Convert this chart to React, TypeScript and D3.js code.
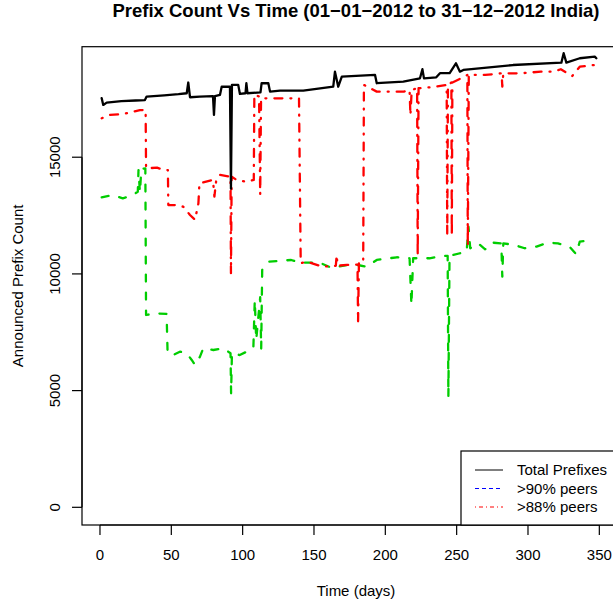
import * as d3 from 'd3';

// [day, announced prefix count]
const totalPrefixes: [number, number][] = [
  [1.2, 17530], [2.3, 17240], [4.7, 17340], [15, 17400], [25, 17430], [31.5, 17450],
  [32.7, 17600], [45, 17650], [55, 17700], [60.8, 17740], [61.9, 18200], [63.1, 17570],
  [70, 17600], [79.2, 17620], [79.9, 16810], [80.6, 17620], [84.1, 17670], [85.3, 18020],
  [91.1, 18020], [91.8, 13650], [92.5, 18100], [96.9, 18100], [98.1, 17710], [102, 17740],
  [102.6, 18170], [103.4, 17740], [112.5, 17780], [113.3, 18170], [118, 18170], [119.2, 17810],
  [126.2, 17850], [142.5, 17850], [163.5, 18020], [164.7, 18665], [167, 18020], [169.5, 18450],
  [192.8, 18525], [194, 18170], [212.6, 18240], [224.3, 18380], [226, 18770], [227.1, 18380],
  [235.7, 18425], [238.3, 18600], [245.1, 18600], [249.5, 19025], [252.3, 18665], [254.7, 18740],
  [260.3, 18770], [289.5, 18950], [323.4, 19050], [325, 19455], [326.9, 19050], [336.3, 19240],
  [346.8, 19310], [347.9, 19240],
];

const peers90: [number, number][] = [
  [1.2, 13283], [9, 13380], [16, 13240], [22, 13340], [26.5, 13520], [27, 14450], [28, 13500],
  [29, 14500], [31.8, 14525], [32.3, 8240], [38.5, 8313], [46.7, 8283], [47.4, 6600], [51.4, 6525],
  [56, 6668], [60.8, 6600], [64.3, 6312], [66.6, 6100], [70.1, 6453], [72.4, 6813], [79.5, 6740],
  [86.6, 6813], [91.5, 6600], [91.9, 4885], [92.5, 6600], [98, 6525], [107.5, 6813], [108.5, 8870],
  [109.5, 7170], [112.3, 9000], [113, 6800], [113.7, 10170], [118.3, 10525], [127, 10567],
  [134, 10597], [140, 10483], [154, 10483], [162, 10267], [174, 10383], [180.5, 10383],
  [187, 10310], [194, 10597], [208, 10713], [217, 10670], [218.3, 8670], [219.5, 10670],
  [224.3, 10670], [231, 10670], [240.5, 10770], [243.7, 10770], [244.2, 4740], [245, 10770],
  [252.3, 10885], [257, 10950], [258.3, 12020], [259.5, 11100], [265, 11310], [270, 11055],
  [274.7, 11340], [281.3, 11310], [282, 9880], [282.7, 11310], [290.5, 11240], [297.7, 11100],
  [306, 11170], [314, 11340], [321, 11310], [329, 11170], [333.7, 10850], [336.3, 11380],
  [345.5, 11455],
];

const peers88: [number, number][] = [
  [1.2, 16670], [7, 16810], [16, 16850], [28, 17020], [32, 17020], [32.3, 14525], [40, 14550],
  [45, 14450], [47.6, 14450], [47.9, 12950], [53.7, 12950], [58.4, 12880], [63.1, 12525],
  [66.6, 12320], [69, 13025], [69.7, 13880], [79.2, 14025], [80.2, 13310], [81.5, 14025],
  [84.1, 14240], [91.5, 14165], [91.8, 10030], [92.3, 14165], [95.8, 14025], [102.8, 13950],
  [107.8, 14025], [108.2, 17680], [111.5, 17600], [112.3, 13400], [112.9, 17525], [126, 17525],
  [139.5, 17525], [140.7, 10455], [145, 10525], [156, 10310], [165.3, 10350], [165.9, 10810],
  [166.5, 10350], [173, 10383], [180.5, 10400], [180.9, 7950], [181.5, 10455], [184.5, 10455],
  [185, 18096], [194, 17810], [213, 17810], [217, 17880], [217.6, 16800], [218.5, 17880],
  [222.3, 17955], [222.7, 10740], [223.3, 17955], [232.5, 18000], [243, 18096], [243.4, 11600],
  [243.9, 18096], [246.3, 18200], [246.6, 11600], [247, 18200], [253, 18380], [257.5, 18525],
  [257.8, 11170], [258.5, 18525], [270, 18525], [281.5, 18596], [282, 18023], [282.7, 18596],
  [295, 18596], [309, 18665], [318, 18665], [323, 18770], [331, 18480], [336.3, 18880],
  [346.8, 18953],
];

const xTicks = [0, 50, 100, 150, 200, 250, 300, 350];
const yTicks = [0, 5000, 10000, 15000];
const legendLabels = ['Total Prefixes', '>90% peers', '>88% peers'];
const legendColors = ['#000000', '#0000ff', '#ff0000'];
const legendDashes = ['none', '4,3', '1,3,4,3'];

const W = 613;
const H = 604;
const left = 82;
const right = 630;
const top = 46.7;
const bottom = 525;
const font = "'Liberation Sans', Arial, Helvetica, sans-serif";

export default function App() {
  const x = d3.scaleLinear().domain([-12.6, 371.5]).range([left, right]);
  const y = d3.scaleLinear().domain([-758, 19735]).range([bottom, top]);
  const line = d3
    .line<[number, number]>()
    .x((d) => x(d[0]))
    .y((d) => y(d[1]));

  const series = [
    { data: peers90, color: '#00cd00', dash: '7,11' },
    { data: peers88, color: '#ff0000', dash: '1,8,8,8' },
    { data: totalPrefixes, color: '#000000', dash: 'none' },
  ];

  const legendX = 461;
  const legendTop = 451;
  const legendRows = [470, 488.5, 507];

  return (
    <>
      <style>{'body{margin:0}'}</style>
      <svg width={W} height={H} style={{ display: 'block' }} fontFamily={font}>
        <rect width={W} height={H} fill="#fff" />
        <defs>
          <clipPath id="plot">
            <rect x={left} y={top} width={right - left} height={bottom - top} />
          </clipPath>
        </defs>

        <text x={356} y={16.5} textAnchor="middle" fontSize={18.5} fontWeight="bold">
          Prefix Count Vs Time (01−01−2012 to 31−12−2012 India)
        </text>

        <g clipPath="url(#plot)">
          {series.map((s, i) => (
            <path
              key={i}
              d={line(s.data) ?? ''}
              fill="none"
              stroke={s.color}
              strokeWidth={2.3}
              strokeDasharray={s.dash}
              strokeLinecap="round"
              strokeLinejoin="round"
            />
          ))}
        </g>

        <rect x={left} y={top} width={right - left} height={bottom - top} fill="none" stroke="#000" strokeWidth={1.2} />

        {/* x axis */}
        <line x1={x(0)} x2={x(350)} y1={bottom} y2={bottom} stroke="#000" strokeWidth={1.2} />
        {xTicks.map((t) => (
          <g key={t}>
            <line x1={x(t)} x2={x(t)} y1={bottom} y2={bottom + 10} stroke="#000" strokeWidth={1.2} />
            <text x={x(t)} y={560} textAnchor="middle" fontSize={15}>
              {t}
            </text>
          </g>
        ))}

        {/* y axis */}
        <line x1={left} x2={left} y1={y(0)} y2={y(15000)} stroke="#000" strokeWidth={1.2} />
        {yTicks.map((t) => (
          <g key={t}>
            <line x1={left - 10} x2={left} y1={y(t)} y2={y(t)} stroke="#000" strokeWidth={1.2} />
            <text transform={`translate(60,${y(t)}) rotate(-90)`} textAnchor="middle" fontSize={15}>
              {t}
            </text>
          </g>
        ))}

        <text x={356} y={596} textAnchor="middle" fontSize={15}>
          Time (days)
        </text>
        <text transform={`translate(23,${(top + bottom) / 2}) rotate(-90)`} textAnchor="middle" fontSize={15}>
          Announced Prefix Count
        </text>

        {/* legend */}
        <rect
          x={legendX}
          y={legendTop}
          width={W - legendX + 20}
          height={bottom - legendTop}
          fill="#fff"
          stroke="#000"
          strokeWidth={1.2}
        />
        {legendLabels.map((label, i) => (
          <g key={label}>
            <line
              x1={475}
              x2={503}
              y1={legendRows[i]}
              y2={legendRows[i]}
              stroke={legendColors[i]}
              strokeWidth={1}
              strokeDasharray={legendDashes[i]}
            />
            <text x={517} y={legendRows[i] + 5} fontSize={15}>
              {label}
            </text>
          </g>
        ))}
      </svg>
    </>
  );
}
